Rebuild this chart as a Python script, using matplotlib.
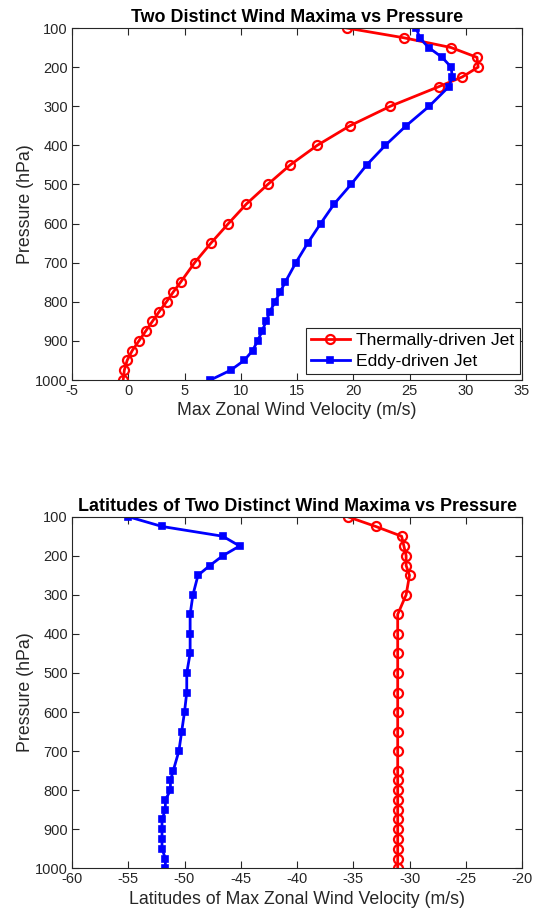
import matplotlib.pyplot as plt

plt.rcParams["font.family"] = ["Liberation Sans", "DejaVu Sans"]
plt.rcParams["axes.unicode_minus"] = False

# Pressure levels (hPa)
pressure = [100, 125, 150, 175, 200, 225, 250, 300, 350, 400, 450, 500, 550,
            600, 650, 700, 750, 775, 800, 825, 850, 875, 900, 925, 950, 975, 1000]

# Maximum zonal wind speed (m/s)
thermal_speed = [19.4, 24.5, 28.7, 31.0, 31.1, 29.7, 27.6, 23.3, 19.7, 16.8,
                 14.4, 12.4, 10.5, 8.9, 7.35, 5.9, 4.65, 4.0, 3.4, 2.75, 2.15,
                 1.55, 0.95, 0.35, -0.1, -0.35, -0.45]
eddy_speed = [25.6, 25.9, 26.7, 27.9, 28.7, 28.8, 28.5, 26.75, 24.7, 22.85,
              21.2, 19.8, 18.3, 17.1, 15.95, 14.9, 13.95, 13.5, 13.05, 12.6,
              12.25, 11.9, 11.5, 11.05, 10.3, 9.1, 7.3]

# Latitude of each maximum (deg)
thermal_lat = [-35.5, -33.0, -30.7, -30.5, -30.3, -30.3, -30.0, -30.3, -31.05,
               -31.05, -31.05, -31.05, -31.05, -31.05, -31.05, -31.05, -31.05,
               -31.05, -31.05, -31.05, -31.05, -31.05, -31.05, -31.05, -31.05,
               -31.05, -31.05]
eddy_lat = [-55.0, -52.0, -46.6, -45.1, -46.6, -47.75, -48.8, -49.25, -49.5,
            -49.5, -49.5, -49.8, -49.8, -50.0, -50.25, -50.5, -51.0, -51.25,
            -51.25, -51.7, -51.7, -52.0, -52.0, -52.0, -52.0, -51.7, -51.7]

axis_color = "#262626"

fig = plt.figure(figsize=(5.41, 9.17), dpi=100)
W, H = 541, 917
ax1 = fig.add_axes([72 / W, 1 - 380 / H, 450 / W, 352 / H])
ax2 = fig.add_axes([72 / W, 1 - 868.3 / H, 450 / W, 351.6 / H])


def style_axes(ax):
    ax.tick_params(direction="in", top=True, right=True, length=5,
                   labelsize=10.5, colors=axis_color, width=0.8, pad=3)
    for s in ax.spines.values():
        s.set_color(axis_color)
        s.set_linewidth(0.8)
    ax.set_ylim(1000, 100)
    ax.set_yticks(range(100, 1001, 100))
    ax.set_ylabel("Pressure (hPa)", fontsize=12.8, color=axis_color, labelpad=1)


# Wind speed maxima
ax1.plot(thermal_speed, pressure, color="red", lw=2, marker="o", ms=6.5,
         mfc="none", mew=1.6, label="Thermally-driven Jet")
ax1.plot(eddy_speed, pressure, color="blue", lw=2, marker="s", ms=5,
         mew=1.2, label="Eddy-driven Jet")
ax1.set_xlim(-5, 35)
ax1.set_xticks(range(-5, 36, 5))
style_axes(ax1)
ax1.set_xlabel("Max Zonal Wind Velocity (m/s)", fontsize=12.8,
               color=axis_color, labelpad=3)
ax1.set_title("Two Distinct Wind Maxima vs Pressure", fontsize=12.9,
              fontweight="bold", pad=4)
leg = ax1.legend(loc="lower right", bbox_to_anchor=(1 - 2 / 450, 6 / 352),
                 fontsize=12.6, fancybox=False, framealpha=1,
                 edgecolor=axis_color, borderpad=0.3, handlelength=2.2,
                 handletextpad=0.4, labelspacing=0.3, borderaxespad=0)
leg.get_frame().set_linewidth(0.8)

# Latitudes of the maxima
ax2.plot(eddy_lat, pressure, color="blue", lw=2, marker="s", ms=5, mew=1.2)
ax2.plot(thermal_lat, pressure, color="red", lw=2, marker="o", ms=6.5,
         mfc="none", mew=1.6)
ax2.set_xlim(-60, -20)
ax2.set_xticks(range(-60, -19, 5))
style_axes(ax2)
ax2.set_xlabel("Latitudes of Max Zonal Wind Velocity (m/s)", fontsize=12.8,
               color=axis_color, labelpad=3)
ax2.set_title("Latitudes of Two Distinct Wind Maxima vs Pressure",
              fontsize=12.9, fontweight="bold", pad=4)

fig.savefig("out.png", dpi=100)
